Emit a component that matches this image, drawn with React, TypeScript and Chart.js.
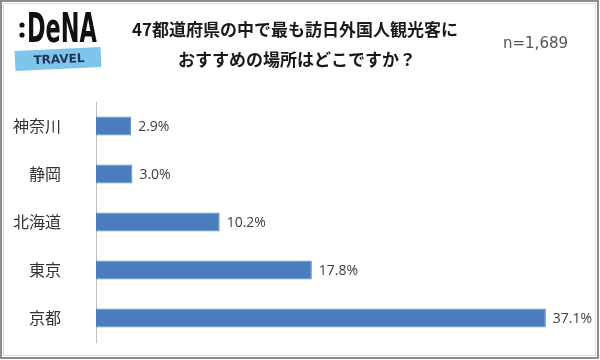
import React, { useEffect, useRef } from "react";
import { Chart, registerables } from "chart.js";

Chart.register(...registerables);

const categories = ["神奈川", "静岡", "北海道", "東京", "京都"];
const values = [2.9, 3.0, 10.2, 17.8, 37.1];
const titleLines = ["47都道府県の中で最も訪日外国人観光客に", "おすすめの場所はどこですか？"];
const sampleNote = "n=1,689";

const JP = '"Noto Sans CJK JP", "Noto Sans", sans-serif';

const decorPlugin = {
  id: "decor",
  beforeDraw(chart: any) {
    const { ctx, width, height } = chart;
    ctx.save();
    ctx.fillStyle = "#ffffff";
    ctx.fillRect(0, 0, width, height);
    ctx.restore();
  },
  afterDraw(chart: any) {
    const { ctx, width, height } = chart;
    ctx.save();
    // frame
    ctx.strokeStyle = "#8c8c8c";
    ctx.lineWidth = 2;
    ctx.strokeRect(1, 1, width - 3, height - 3);
    ctx.strokeStyle = "#dcdcdc";
    ctx.lineWidth = 1;
    ctx.strokeRect(3.5, 3.5, width - 8, height - 8);

    // logo
    ctx.fillStyle = "#111111";
    ctx.beginPath();
    ctx.arc(22, 25, 2.6, 0, Math.PI * 2);
    ctx.arc(22, 35, 2.6, 0, Math.PI * 2);
    ctx.fill();
    ctx.font = 'bold 40px "DejaVu Sans", sans-serif';
    ctx.textBaseline = "alphabetic";
    ctx.textAlign = "left";
    ctx.save();
    ctx.translate(27, 42);
    ctx.scale(0.56, 1);
    ctx.fillText("DeNA", 0, 0);
    ctx.restore();

    ctx.save();
    ctx.translate(58, 59);
    ctx.rotate(-0.045);
    ctx.fillStyle = "#7fc4ea";
    ctx.fillRect(-43, -10, 86, 20);
    ctx.fillStyle = "#1b3556";
    ctx.font = 'bold 12px "DejaVu Sans", sans-serif';
    ctx.textAlign = "center";
    ctx.textBaseline = "middle";
    ctx.fillText("TRAVEL", 1, 1);
    ctx.restore();

    // title
    ctx.fillStyle = "#1a1a1a";
    ctx.font = `bold 17px ${JP}`;
    ctx.textAlign = "center";
    ctx.textBaseline = "middle";
    ctx.fillText(titleLines[0], 295, 30);
    ctx.fillText(titleLines[1], 297, 60);

    ctx.fillStyle = "#555555";
    ctx.font = '15px "DejaVu Sans", sans-serif';
    ctx.textAlign = "left";
    ctx.fillText(sampleNote, 503, 44);

    // value labels
    const meta = chart.getDatasetMeta(0);
    ctx.fillStyle = "#404040";
    ctx.font = '14px "Open Sans", "Noto Sans", sans-serif';
    ctx.textAlign = "left";
    ctx.textBaseline = "middle";
    meta.data.forEach((bar: any, i: number) => {
      ctx.fillText(values[i].toFixed(1) + "%", bar.x + 7, bar.y + 1);
    });
    ctx.restore();
  },
};

export default function App() {
  const ref = useRef<HTMLCanvasElement | null>(null);
  useEffect(() => {
    document.body.style.margin = "0";
    const chart = new Chart(ref.current as HTMLCanvasElement, {
      type: "bar",
      data: {
        labels: categories,
        datasets: [
          {
            data: values,
            backgroundColor: "#4a7dbb",
            borderColor: "#5b8cc6",
            borderWidth: 1,
            barPercentage: 0.8,
            categoryPercentage: 0.5,
          },
        ],
      },
      options: {
        indexAxis: "y",
        responsive: false,
        animation: false,
        layout: { padding: { left: 0, top: 102, right: 19, bottom: 18 } },
        plugins: {
          legend: { display: false },
          tooltip: { enabled: false },
          title: { display: false },
        },
        scales: {
          x: {
            display: false,
            min: 0,
            max: 40,
            afterFit(scale: any) {
              scale.height = 0;
            },
          },
          y: {
            grid: { display: false },
            border: { display: true, color: "#bfbfbf", width: 1 },
            ticks: {
              color: "#333333",
              font: { size: 16, family: JP },
              padding: 27,
            },
            afterFit(scale: any) {
              scale.width = 96;
              scale.paddingTop = 0;
              scale.paddingBottom = 0;
            },
          },
        },
      },
      plugins: [decorPlugin],
    } as any);
    return () => chart.destroy();
  }, []);
  return (
    <div style={{ position: "absolute", left: 0, top: 0, width: 600, height: 360 }}>
      <canvas ref={ref} width={600} height={360} />
    </div>
  );
}
